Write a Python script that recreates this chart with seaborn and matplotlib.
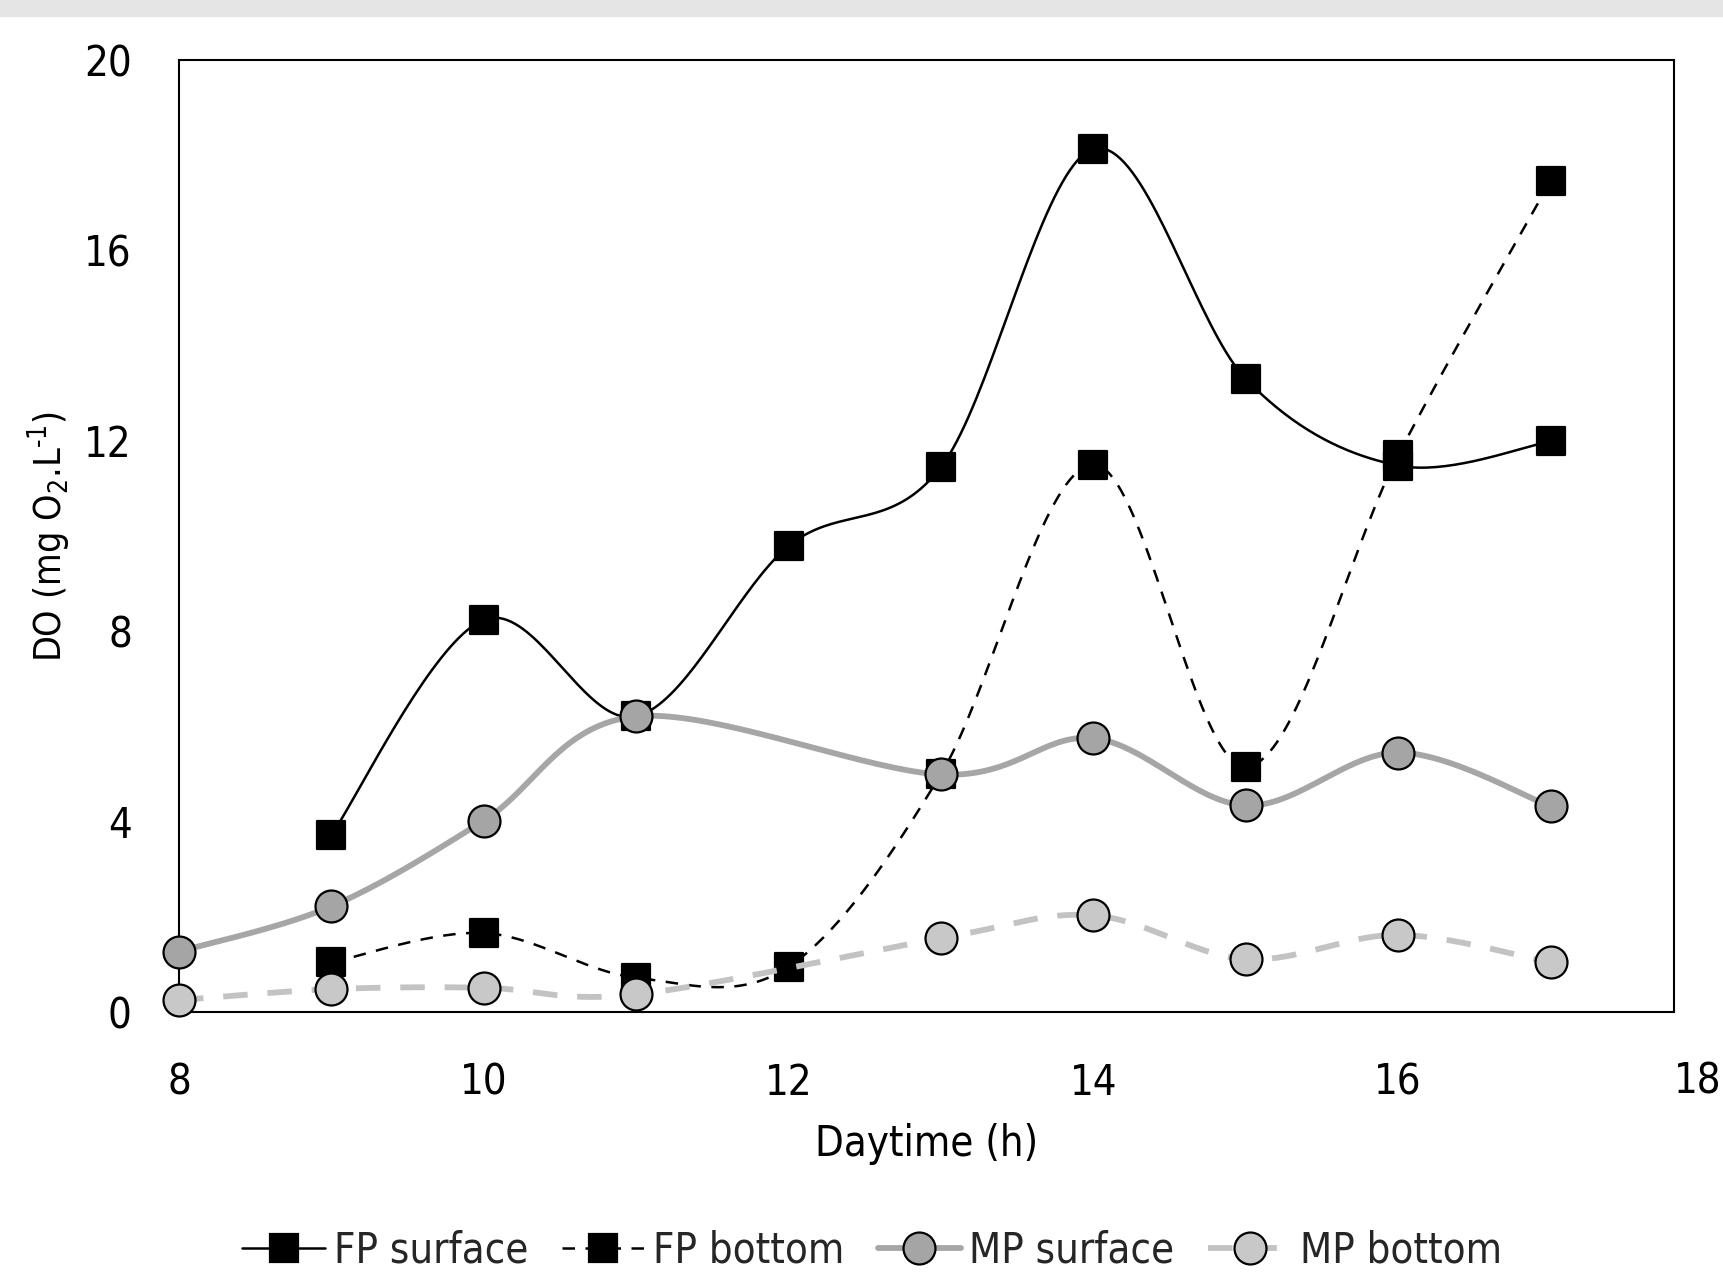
import numpy as np
import matplotlib.pyplot as plt
import matplotlib.font_manager as fm
import seaborn as sns
from matplotlib.lines import Line2D
from matplotlib.patches import Rectangle

# ── data ─────────────────────────────────────────────────────────────────────
fp_hours = [9, 10, 11, 12, 13, 14, 15, 16, 17]
fp_surface = [3.72, 8.24, 6.21, 9.79, 11.45, 18.13, 13.30, 11.48, 11.99]
fp_bottom = [1.04, 1.66, 0.72, 0.95, 5.00, 11.50, 5.15, 11.70, 17.46]

mp_hours = [8, 9, 10, 11, 13, 14, 15, 16, 17]
mp_surface = [1.27, 2.22, 4.02, 6.21, 4.99, 5.75, 4.34, 5.45, 4.32]
mp_bottom = [0.25, 0.48, 0.51, 0.37, 1.55, 2.03, 1.11, 1.62, 1.04]

x_ticks = [8, 10, 12, 14, 16, 18]
y_ticks = [0, 4, 8, 12, 16, 20]
x_right = 17.81  # plot frame stops just short of the last tick


def smooth(x, y, n=40):
    """Excel-like smoothed line: cubic Bezier through the points."""
    pts = np.column_stack([x, y]).astype(float)
    P = np.vstack([pts[0], pts, pts[-1]])
    t = np.linspace(0, 1, n)[:, None]
    out = []
    for i in range(1, len(P) - 2):
        p0, p1, p2, p3 = P[i - 1], P[i], P[i + 1], P[i + 2]
        c1 = p1 + (p2 - p0) / 6
        c2 = p2 - (p3 - p1) / 6
        seg = (1 - t)**3 * p1 + 3 * (1 - t)**2 * t * c1 + 3 * (1 - t) * t**2 * c2 + t**3 * p2
        out.append(seg if i == 1 else seg[1:])
    s = np.vstack(out)
    return s[:, 0], s[:, 1]


# pick a condensed face if one is installed
font_name, font_stretch = 'Roboto', 'normal'
for f in fm.fontManager.ttflist:
    narrow = f.stretch in ('condensed', 'semi-condensed') or 'Condensed' in f.name or 'Narrow' in f.name
    if narrow and f.style == 'normal' and f.weight in (400, 'normal', 'regular'):
        font_name, font_stretch = f.name, f.stretch
        break

sns.set_theme(style="white")
plt.rcParams['font.family'] = [font_name, 'DejaVu Sans']
plt.rcParams['font.stretch'] = font_stretch
plt.rcParams['mathtext.fontset'] = 'custom'
plt.rcParams['mathtext.rm'] = font_name
plt.rcParams['mathtext.it'] = font_name

fig = plt.figure(figsize=(17.23, 12.76), dpi=100)
fig.patches.append(Rectangle((0, 1 - 16 / 1276), 1, 16 / 1276, transform=fig.transFigure,
                             color='#e5e5e5', zorder=0))
ax = fig.add_axes([0.1039, 0.2069, 0.8677, 0.7461])

series = [
    # x, y, line colour, lw, dashes, marker, size, face, label
    (fp_hours, fp_surface, 'black', 1.8, None, 's', 20, 'black', 'FP surface'),
    (fp_hours, fp_bottom, 'black', 1.8, (5, 4.2), 's', 20, 'black', 'FP bottom'),
    (mp_hours, mp_surface, '#a6a6a6', 4.2, None, 'o', 23, '#a5a5a5', 'MP surface'),
    (mp_hours, mp_bottom, '#c3c3c3', 4.2, (4.2, 3.4), 'o', 23, '#c8c8c8', 'MP bottom'),
]

handles = []
z = 2
for xs, ys, col, lw, dash, mk, ms, face, name in series:
    sx, sy = smooth(xs, ys)
    ls = '-' if dash is None else (0, dash)
    sns.lineplot(x=sx, y=sy, sort=False, estimator=None, ax=ax, color=col,
                 linewidth=lw, linestyle=ls, zorder=z, clip_on=False)
    sns.scatterplot(x=xs, y=ys, ax=ax, marker=mk, s=ms**2, color=face,
                    edgecolor='black', linewidth=1.6, zorder=z + 1, clip_on=False)
    z += 2
    handles.append(Line2D([0], [0], color=col, lw=lw, linestyle=ls, marker=mk,
                          markersize=ms, markerfacecolor=face, markeredgecolor='black',
                          markeredgewidth=1.6, label=name))

ax.set_xlim(8, x_right)
ax.set_ylim(0, 20)
ax.set_xticks([t for t in x_ticks if t <= x_right])
ax.set_yticks(y_ticks)
ax.tick_params(axis='both', length=0, labelsize=30, colors='black')
ax.tick_params(axis='y', pad=34)
ax.tick_params(axis='x', pad=36)
# the last label lies past the frame, right at the figure edge
for t in x_ticks:
    if t > x_right:
        fig.text(1.0 - 2 / 1723, 1 - 1060 / 1276, str(t), ha='right', va='top',
                 fontsize=30, color='black')
for sp in ax.spines.values():
    sp.set_color('black')
    sp.set_linewidth(1.5)

ax.set_xlabel('Daytime (h)', fontsize=30, color='black', labelpad=14)
ax.set_ylabel('DO (mg O$_2$.L$^{\u2010 1}$)', fontsize=27, color='black', labelpad=8)

fig.legend(handles=handles, loc='center', bbox_to_anchor=(0.506, 0.02), ncol=4,
           frameon=False, fontsize=30, handlelength=2.0, handletextpad=0.2,
           columnspacing=0.8)

fig.savefig('out.png', dpi=100)
